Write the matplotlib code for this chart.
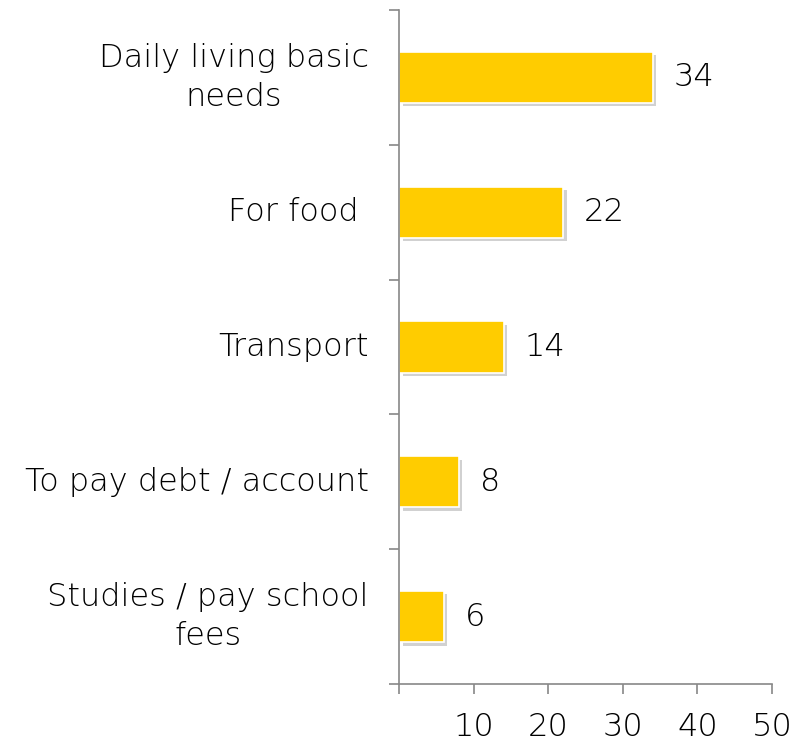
import matplotlib.pyplot as plt
import matplotlib.patheffects as pe
import numpy as np

plt.rcParams['font.family'] = ['DejaVu Sans']

categories = ["Daily living basic\nneeds", "For food ", "Transport",
              "To pay debt / account", "Studies / pay school\nfees"]
values = [34, 22, 14, 8, 6]
xticks = [0, 10, 20, 30, 40, 50]
xtick_labels = ["", "10", "20", "30", "40", "50"]

TXT = '#000000'
AXC = '#888888'
FS = 23
FW = 'light'

fig = plt.figure(figsize=(8, 7.44), dpi=100)
ax = fig.add_axes([0.499, 0.0806, 0.466, 0.906])

y = np.arange(len(categories))
bars = ax.barh(y, values, height=0.38, color='#FFCC00', edgecolor='white', linewidth=1.2)
for b in bars:
    b.set_path_effects([pe.SimplePatchShadow(offset=(2.5, -2.5), shadow_rgbFace='#999999', alpha=0.45),
                        pe.Normal()])

for yi, v in zip(y, values):
    ax.annotate(str(v), (v, yi), xytext=(15, 0), textcoords='offset points',
                ha='left', va='center', fontsize=FS, fontweight=FW, color=TXT)

ax.set_xlim(0, 50)
ax.set_ylim(len(categories) - 0.5, -0.5)
ax.set_xticks(xticks)
ax.set_xticklabels(xtick_labels, fontsize=FS, fontweight=FW, color=TXT)

# category ticks sit on the boundaries between bars; labels are placed as text
ax.set_yticks(np.arange(len(categories) + 1) - 0.5)
ax.set_yticklabels([])
for yi, c in zip(y, categories):
    ax.annotate(c, (0, yi), xytext=(-22, 0), textcoords='offset points',
                ha='right', va='center', multialignment='center',
                fontsize=FS, fontweight=FW, color=TXT, linespacing=1.35)

for s in ['top', 'right']:
    ax.spines[s].set_visible(False)
for s in ['left', 'bottom']:
    ax.spines[s].set_color(AXC)
    ax.spines[s].set_linewidth(1.2)
ax.tick_params(axis='both', color=AXC, width=1.2, length=7)
ax.tick_params(axis='x', pad=13)

fig.savefig('out.png', dpi=100)
